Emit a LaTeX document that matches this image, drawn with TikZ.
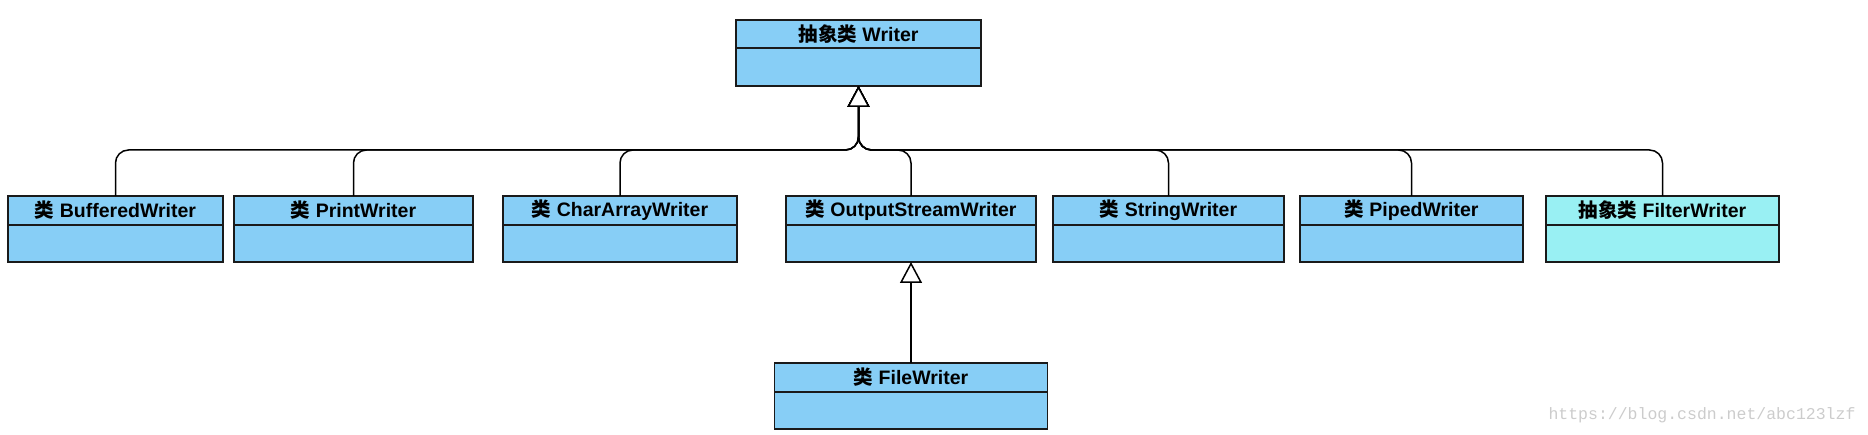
\documentclass[tikz,border=0pt]{standalone}
\usepackage{fontspec}
\setmainfont{Liberation Sans}
\newfontfamily\cjk{Noto Sans CJK SC}
\newfontfamily\markfont{Liberation Mono}
\usetikzlibrary{positioning,arrows.meta}
\definecolor{classblue}{HTML}{87CEF6}
\definecolor{abstractcyan}{HTML}{99F0F3}
\definecolor{linegray}{HTML}{1A1A1A}
\begin{document}
\begin{tikzpicture}[x=1pt,y=-1pt]
        \tikzset{head/.style = {draw=linegray,fill=classblue,line width=1.3pt,inner sep=0pt,outer sep=0pt,minimum height=29pt,font=\fontsize{19.5}{22}\selectfont\bfseries}}
        \tikzset{body/.style = {draw=linegray,fill=classblue,line width=1.3pt,inner sep=0pt,outer sep=0pt,minimum height=37pt}}
        \tikzset{inherit/.style = {draw=black,line width=1.5pt,rounded corners=13pt,-{Triangle[length=21pt,width=22pt,fill=white,line width=1.5pt]}}}

        \useasboundingbox (0,0) rectangle (1868,435);

        % abstract base
        \node[head,minimum width=245pt,minimum height=28pt,anchor=north] (writer) at (858.5,20) {{\cjk\bfseries 抽象类} Writer};
        \node[body,minimum width=245pt,minimum height=38pt,below=0pt of writer] (writerb) {};

        % subclasses
        \node[head,minimum width=215pt,anchor=north] (buffered) at (115.5,196) {{\cjk\bfseries 类} BufferedWriter};
        \node[body,minimum width=215pt,below=0pt of buffered] (bufferedb) {};
        \node[head,minimum width=239pt,anchor=north] (print) at (353.5,196) {{\cjk\bfseries 类} PrintWriter};
        \node[body,minimum width=239pt,below=0pt of print] (printb) {};
        \node[head,minimum width=234pt,anchor=north] (chararray) at (620,196) {{\cjk\bfseries 类} CharArrayWriter};
        \node[body,minimum width=234pt,below=0pt of chararray] (chararrayb) {};
        \node[head,minimum width=250pt,anchor=north] (outstream) at (911,196) {{\cjk\bfseries 类} OutputStreamWriter};
        \node[body,minimum width=250pt,below=0pt of outstream] (outstreamb) {};
        \node[head,minimum width=231pt,anchor=north] (string) at (1168.5,196) {{\cjk\bfseries 类} StringWriter};
        \node[body,minimum width=231pt,below=0pt of string] (stringb) {};
        \node[head,minimum width=223pt,anchor=north] (piped) at (1411.5,196) {{\cjk\bfseries 类} PipedWriter};
        \node[body,minimum width=223pt,below=0pt of piped] (pipedb) {};
        \node[head,fill=abstractcyan,minimum width=233pt,anchor=north] (filter) at (1662.5,196) {{\cjk\bfseries 抽象类} FilterWriter};
        \node[body,fill=abstractcyan,minimum width=233pt,below=0pt of filter] (filterb) {};

        \node[head,minimum width=273pt,anchor=north] (file) at (911,363) {{\cjk\bfseries 类} FileWriter};
        \node[body,minimum width=273pt,below=0pt of file] (fileb) {};

        % inheritance
        \coordinate (hub) at (858.5,150);
        \foreach \c in {buffered,print,chararray,outstream,string,piped,filter}
            \draw[inherit] (\c.north) |- (hub) -- (writerb.south);
        \draw[inherit] (file.north) -- (outstreamb.south);

        \node[text=gray!40,font=\markfont\fontsize{16.5}{18}\selectfont] (mark) at (1702,415) {https://blog.csdn.net/abc123lzf};
\end{tikzpicture}
\end{document}
